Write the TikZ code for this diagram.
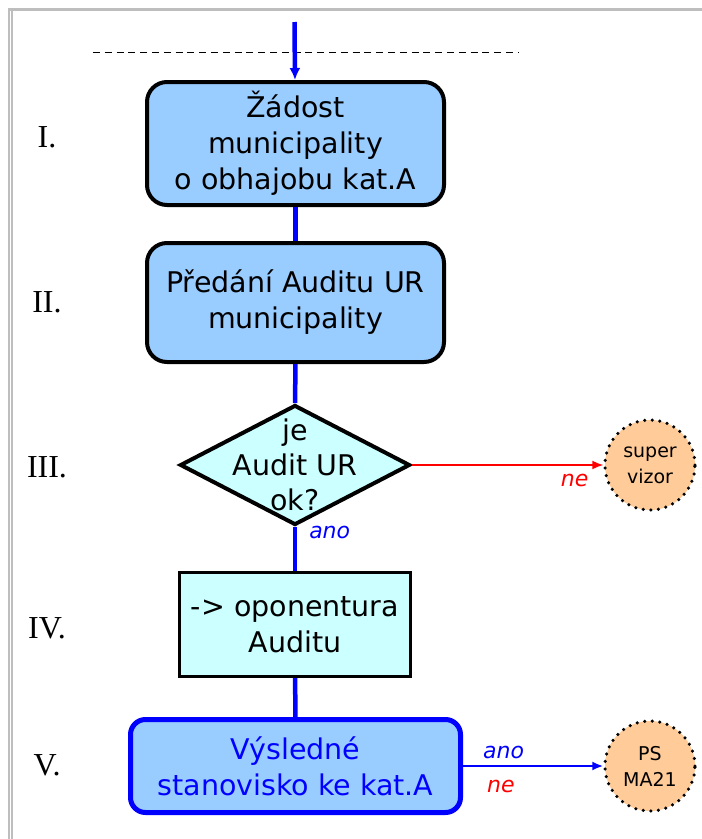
\documentclass[tikz,border=0pt]{standalone}
\usepackage{fontspec}
\setmainfont{DejaVu Sans}
\newfontfamily\numfont{Liberation Serif}
\usetikzlibrary{positioning,shapes.geometric,arrows.meta}
\definecolor{boxblue}{HTML}{99CCFF}
\definecolor{boxcyan}{HTML}{CCFFFF}
\definecolor{peach}{HTML}{FFCC99}
\definecolor{framegray}{HTML}{BEBEBE}
\tikzstyle{phase}=[draw, line width=4pt, rounded corners=20pt, fill=boxblue, align=center, font=\fontsize{28.5}{36}\selectfont]
\tikzstyle{decision}=[diamond, draw, line width=4pt, fill=boxcyan, minimum width=230pt, minimum height=120pt, inner sep=0pt]
\tikzstyle{task}=[draw, line width=3pt, fill=boxcyan, minimum width=231pt, minimum height=104pt, align=center, font=\fontsize{28.5}{36}\selectfont]
\tikzstyle{exit}=[circle, draw, fill=peach, line width=3.5pt, dash pattern=on 0pt off 7.6pt, line cap=round, minimum size=90pt, inner sep=0pt, align=center, font=\fontsize{19}{26}\selectfont]
\tikzstyle{flow}=[blue, line width=4.5pt]
\tikzstyle{answer}=[font=\fontsize{22}{24}\selectfont\itshape, inner sep=0pt]
\tikzstyle{phasenum}=[font=\numfont\fontsize{32}{36}\selectfont]

\begin{document}
\begin{tikzpicture}[x=1pt, y=-1pt]
    \useasboundingbox (0,0) rectangle (702,839);
    % frame
    \fill[framegray] (8,8) rectangle (702,11);
    \fill[framegray] (8,8) rectangle (10,839);
    \fill[framegray] (11,11) rectangle (13,839);
    \draw[dash pattern=on 7pt off 4.8pt, line width=1pt] (93,52) -- (519,52);
    % phase numbers
    \foreach \num/\y [count=\i] in {I./137, II./302, III./467, IV./628, V./765}
        \node[phasenum] (num\i) at (47,\y) {\num};
    % chart
    \coordinate (start) at (294.5,22);
    \node[phase, minimum width=297pt, minimum height=123pt] (zadost) at (295.5,143.5) {Žádost\\municipality\\o obhajobu kat.A};
    \node[phase, minimum width=297pt, minimum height=119pt] (predani) at (295.5,302.5) {Předání Auditu UR\\municipality};
    \node[decision] (audit) at (295,465) {};
    \node[align=center, font=\fontsize{28.5}{35}\selectfont] (audittext) at (audit.center) {je\\Audit UR\\ok?};
    \node[task] (oponentura) at (295,624.5) {-> oponentura\\Auditu};
    \node[phase, draw=blue, text=blue, line width=5pt, rounded corners=15pt, minimum width=330pt, minimum height=93pt] (stanovisko) at (295.5,766) {Výsledné\\stanovisko ke kat.A};
    \node[exit] (supervizor) at (650,465) {super\\vizor};
    \node[exit] (psma) at (650,766) {PS\\MA21};
    \draw[flow, -{Latex[length=12pt,width=11pt]}] (start) -- (zadost);
    \draw[flow] (zadost) -- (predani);
    \draw[flow] (predani) -- (audit);
    \draw[flow] (audit) -- node[answer, blue, pos=0.12, right=12pt] {ano} (oponentura);
    \draw[flow] (oponentura) -- (stanovisko);
    \draw[red, line width=1.5pt, -{Latex[length=11pt,width=9pt]}] (audit) -- node[answer, pos=0.85, below=8pt] {ne} (supervizor);
    \draw[blue, line width=2pt, -{Latex[length=11pt,width=9pt]}] (stanovisko) -- node[answer, pos=0.29, above=6pt] {ano} node[answer, red, pos=0.27, below=13pt] {ne} (psma);
\end{tikzpicture}
\end{document}
